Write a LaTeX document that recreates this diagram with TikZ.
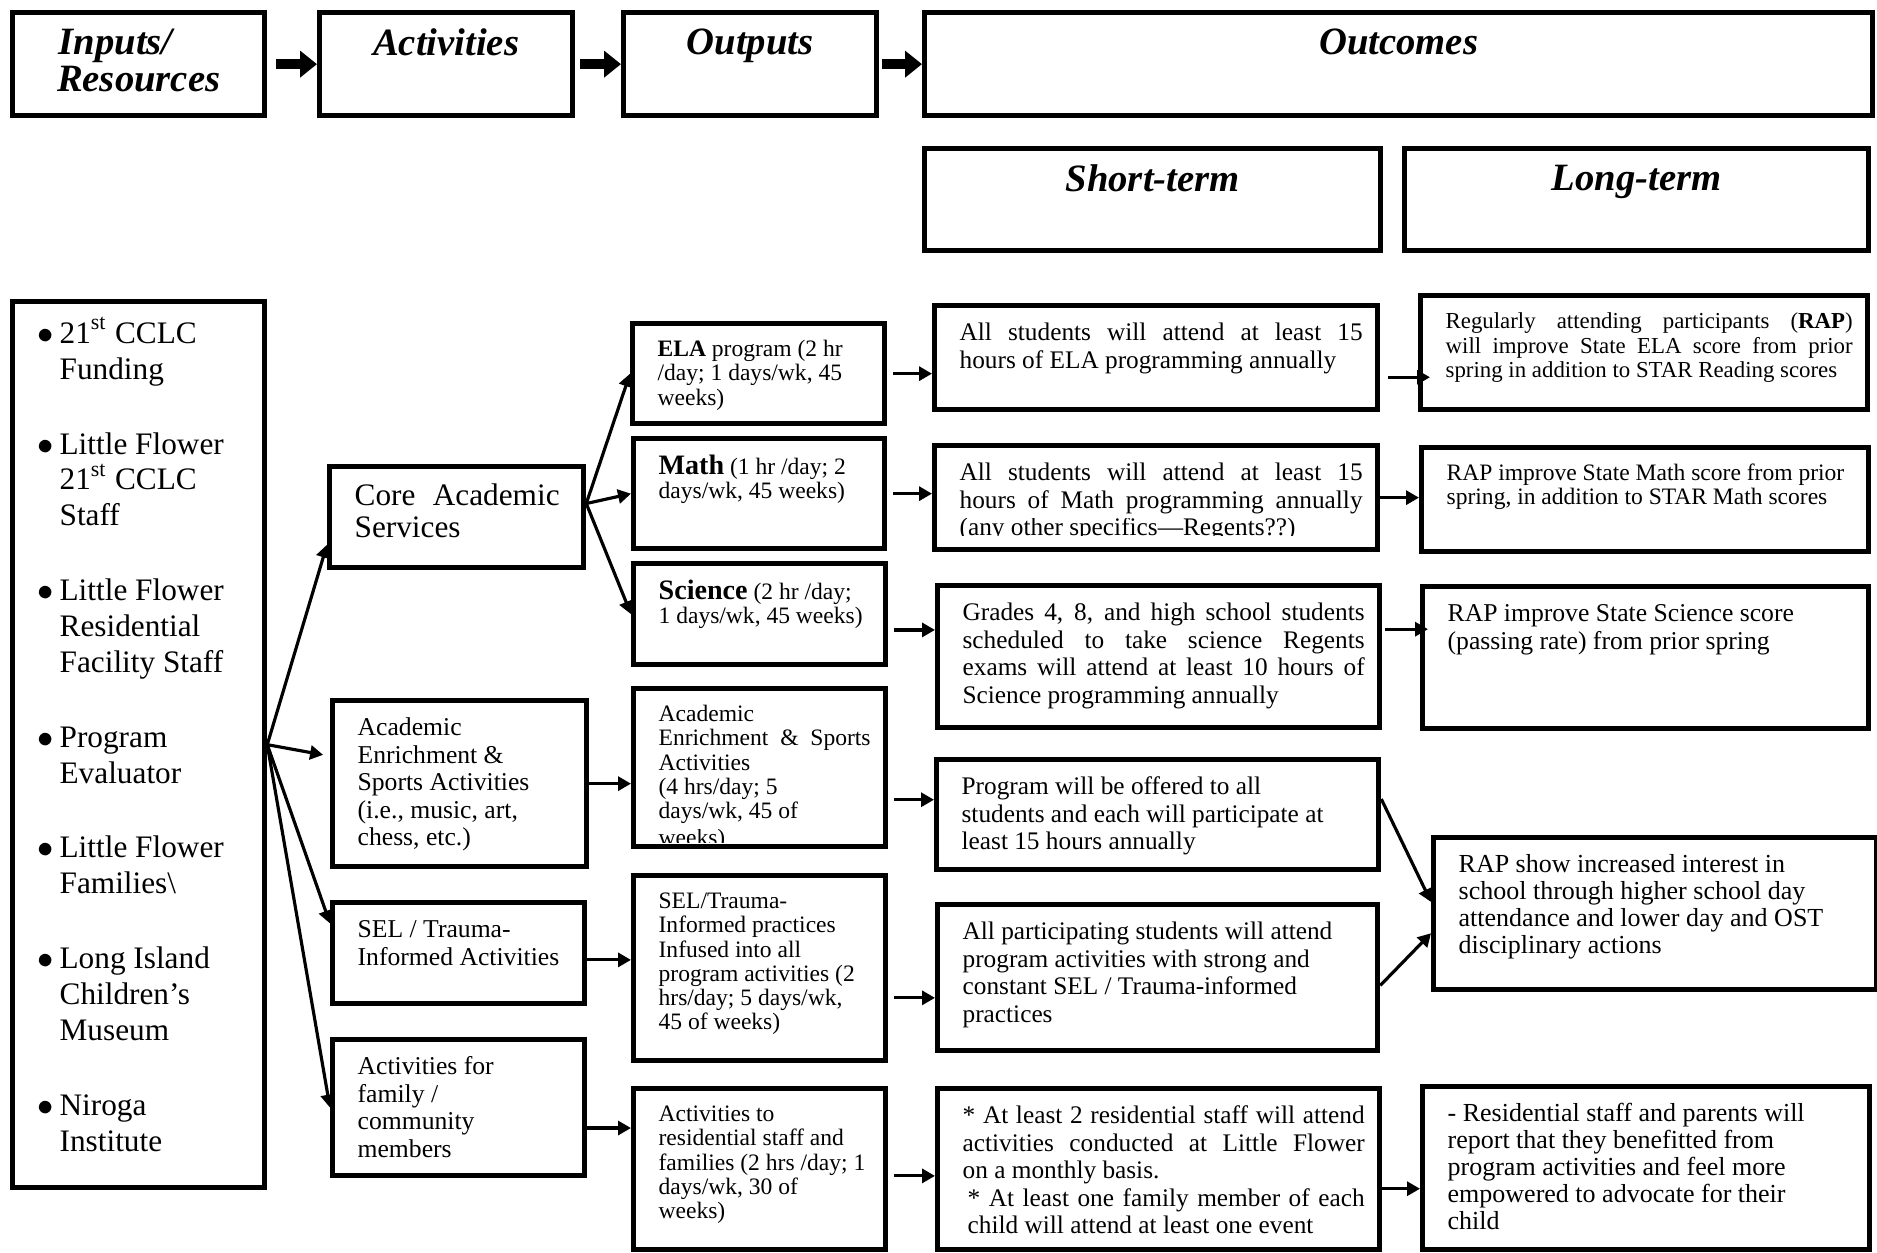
\documentclass[tikz,border=0pt]{standalone}
\usepackage{fontspec}
\setmainfont{Liberation Serif}
\usepackage{trimclip}
\usetikzlibrary{arrows.meta}

\newlength\boxlgap \setlength\boxlgap{0.25cm}
\newlength\boxrgap \setlength\boxrgap{0.15cm}
\newlength\boxtgap \setlength\boxtgap{0.16cm}

%text in a box, kept at the top
\newcommand{\lefttext}[3]{\parbox[c][#2cm][t]{#1cm}{\vspace*{\boxtgap}\leftskip\boxlgap\rightskip0.05cm plus 1fil\relax\strut#3\par}}
\newcommand{\justtext}[3]{\parbox[c][#2cm][t]{#1cm}{\vspace*{\boxtgap}\leftskip\boxlgap\rightskip\boxrgap\strut#3\par}}
\newcommand{\midtext}[3]{\parbox[c][#2cm][t]{#1cm}{\vspace*{\boxtgap}\leftskip0pt plus 1fil\rightskip0pt plus 1fil\relax\parfillskip0pt\relax\strut#3\par}}
\newcommand{\inpitem}[1]{\hangindent0.22cm\hangafter1\makebox[0.22cm][l]{$\bullet$}#1\par\vspace{0.39cm}}

\tikzset{
  box/.style={draw, line width=1.5pt, inner sep=0pt, anchor=north west},
  headbox/.style={box, font=\fontsize{11}{10.5}\selectfont\bfseries\itshape},
  inbox/.style={box, font=\fontsize{8.9}{10.2}\selectfont},
  actbox/.style={box, font=\fontsize{7.3}{7.8}\selectfont},
  outbox/.style={box, font=\fontsize{6.7}{6.9}\selectfont},
  shortbox/.style={box, font=\fontsize{7.2}{7.8}\selectfont},
  longbox/.style={box, font=\fontsize{7.4}{7.7}\selectfont},
  conn/.style={line width=0.9pt, -{Triangle[length=0.13cm,width=0.14cm]}},
  bigarrow/.style={line width=2.8pt, -{Triangle[length=0.17cm,width=0.26cm]}},
}

\begin{document}
\begin{tikzpicture}
\useasboundingbox (0,0) rectangle (18.77,-12.52);

%draws the heading boxes
\node[headbox] (inputs) at (0.10,-0.10) {\midtext{2.52}{1.03}{Inputs/\\Resources}};
\node[headbox] (activities) at (3.17,-0.10) {\midtext{2.53}{1.03}{Activities}};
\node[headbox] (outputs) at (6.21,-0.10) {\midtext{2.53}{1.03}{Outputs}};
\node[headbox] (outcomes) at (9.22,-0.10) {\midtext{9.48}{1.03}{Outcomes}};
\node[headbox] (shortterm) at (9.22,-1.46) {\midtext{4.56}{1.02}{Short-term}};
\node[headbox] (longterm) at (14.02,-1.46) {\midtext{4.64}{1.02}{Long-term}};

%draws the list of inputs
\node[inbox] (resources) at (0.10,-2.99) {\lefttext{2.52}{8.86}{%
  \inpitem{21\textsuperscript{st} CCLC\\Funding}%
  \inpitem{Little Flower\\21\textsuperscript{st} CCLC\\Staff}%
  \inpitem{Little Flower\\Residential\\Facility Staff}%
  \inpitem{Program\\Evaluator}%
  \inpitem{Little Flower\\Families\textbackslash}%
  \inpitem{Long Island\\Children’s\\Museum}%
  \inpitem{Niroga\\Institute}}};

%draws the activities
\node[box, font=\fontsize{8.9}{9.2}\selectfont\setlength\boxrgap{0.24cm}] (core) at (3.27,-4.64) {\justtext{2.54}{1.01}{Core Academic\linebreak Services}};
\node[actbox] (enr) at (3.30,-6.98) {\lefttext{2.54}{1.66}{Academic\\Enrichment \&\\Sports Activities\\(i.e., music, art,\\chess, etc.)}};
\node[actbox] (sel) at (3.30,-9.00) {\lefttext{2.52}{1.01}{SEL / Trauma-\\Informed Activities}};
\node[actbox] (fam) at (3.30,-10.37) {\lefttext{2.52}{1.36}{Activities for\\family /\\community\\members}};

%draws the outputs
\node[outbox] (elaout) at (6.30,-3.21) {\lefttext{2.52}{1.00}{\textbf{ELA} program (2 hr\\/day; 1 days/wk, 45\\weeks)}};
\node[outbox] (mathout) at (6.31,-4.36) {\lefttext{2.51}{1.10}{{\fontsize{8}{6.9}\selectfont\bfseries Math} (1 hr /day; 2\\days/wk, 45 weeks)}};
\node[outbox] (sciout) at (6.31,-5.61) {\lefttext{2.52}{1.01}{{\fontsize{8}{6.9}\selectfont\bfseries Science} (2 hr /day;\\1 days/wk, 45 weeks)}};
\node[outbox] (enrout) at (6.31,-6.86) {\justtext{2.52}{1.58}{Academic\\Enrichment \& Sports\linebreak Activities\\(4 hrs/day; 5\\days/wk, 45 of\\\clipbox{0pt 2.2pt 0pt 0pt}{weeks)}}};
\node[outbox] (selout) at (6.31,-8.73) {\lefttext{2.52}{1.85}{SEL/Trauma-\\Informed practices\\Infused into all\\program activities (2\\hrs/day; 5 days/wk,\\45 of weeks)}};
\node[outbox] (famout) at (6.31,-10.86) {\lefttext{2.52}{1.61}{Activities to\\residential staff and\\families (2 hrs /day; 1\\days/wk, 30 of\\weeks)}};

%draws the short-term outcomes
\node[shortbox] (elast) at (9.32,-3.03) {\justtext{4.43}{1.04}{All students will attend at least 15\linebreak hours of ELA programming annually}};
\node[shortbox] (mathst) at (9.32,-4.43) {\justtext{4.43}{1.04}{All students will attend at least 15\linebreak hours of Math programming annually\linebreak \clipbox{0pt 1.6pt 0pt 0pt}{(any other specifics—Regents??)}}};
\node[shortbox] (scist) at (9.35,-5.83) {\justtext{4.42}{1.42}{Grades 4, 8, and high school students\linebreak scheduled to take science Regents\linebreak exams will attend at least 10 hours of\linebreak Science programming annually}};
\node[shortbox] (progst) at (9.34,-7.57) {\lefttext{4.42}{1.10}{Program will be offered to all\\students and each will participate at\\least 15 hours annually}};
\node[shortbox] (selst) at (9.35,-9.02) {\lefttext{4.40}{1.46}{All participating students will attend\\program activities with strong and\\constant SEL / Trauma-informed\\practices}};
\node[shortbox] (famst) at (9.35,-10.86) {\justtext{4.42}{1.61}{* At least 2 residential staff will attend\linebreak activities conducted at Little Flower\linebreak on a monthly basis.\\\hspace*{0.05cm}* At least one family member of each\linebreak\hspace*{0.05cm}child will attend at least one event}};

%draws the long-term outcomes
\node[longbox, font=\fontsize{6.5}{6.95}\selectfont] (elalt) at (14.18,-2.93) {\justtext{4.47}{1.14}{Regularly attending participants (\textbf{RAP})\linebreak will improve State ELA score from prior\linebreak spring in addition to STAR Reading scores}};
\node[longbox, font=\fontsize{6.7}{6.9}\selectfont] (mathlt) at (14.19,-4.45) {\lefttext{4.47}{1.04}{RAP improve State Math score from prior\\spring, in addition to STAR Math scores}};
\node[longbox, font=\fontsize{7.3}{7.8}\selectfont] (scilt) at (14.20,-5.84) {\lefttext{4.46}{1.42}{RAP improve State Science score\\(passing rate) from prior spring}};
\node[longbox] (raplt) at (14.31,-8.35) {\lefttext{4.43}{1.52}{RAP show increased interest in\\school through higher school day\\attendance and lower day and OST\\disciplinary actions}};
\node[longbox] (famlt) at (14.20,-10.84) {\lefttext{4.47}{1.63}{- Residential staff and parents will\\report that they benefitted from\\program activities and feel more\\empowered to advocate for their\\child}};

%arrows along the heading row
\draw[bigarrow, shorten <=0.09cm] (inputs) -- (activities);
\draw[bigarrow, shorten <=0.05cm] (activities) -- (outputs);
\draw[bigarrow, shorten <=0.03cm] (outputs) -- (outcomes);

%inputs fan out to the activities
\foreach \a/\s in {core.192/0cm, enr.168/0.07cm, sel.167/0cm, fam.west/0cm}
    \draw[conn, shorten >=\s] (resources.east) -- (\a);

%core services to the three programs
\foreach \b in {elaout, mathout, sciout}
    \draw[conn] (core.6) -- (\b.west);

%activities to outputs
\draw[conn] (enr.east) -- (enr.east -| enrout.west);
\draw[conn] (sel.-3) -- (sel.-3 -| selout.west);
\draw[conn] (fam.-9) -- (fam.-9 -| famout.west);

%outputs to short-term outcomes
\draw[conn, shorten <=0.06cm] (elaout.east) -- (elaout.east -| elast.west);
\draw[conn, shorten <=0.06cm] (mathout.east) -- (mathout.east -| mathst.west);
\draw[conn, shorten <=0.06cm] (sciout.-7) -- (sciout.-7 -| scist.west);
\draw[conn, shorten <=0.06cm] (enrout.-14) -- (enrout.-14 -| progst.west);
\draw[conn, shorten <=0.06cm] (selout.-13) -- (selout.-13 -| selst.west);
\draw[conn, shorten <=0.06cm] (famout.-3) -- (famout.-3 -| famst.west);

%short-term to long-term outcomes
\draw[conn, shorten <=0.08cm, shorten >=-0.12cm] (elast.-5) -- (elast.-5 -| elalt.west);
\draw[conn] (mathst.east) -- (mathst.east -| mathlt.west);
\draw[conn, shorten <=0.03cm, shorten >=-0.08cm] (scist.7) -- (scist.7 -| scilt.west);
\draw[conn] (progst.4) -- (raplt.177);
\draw[conn] (selst.-2) -- (raplt.185);
\draw[conn] (famst.-5) -- (famst.-5 -| famlt.west);

\end{tikzpicture}
\end{document}
